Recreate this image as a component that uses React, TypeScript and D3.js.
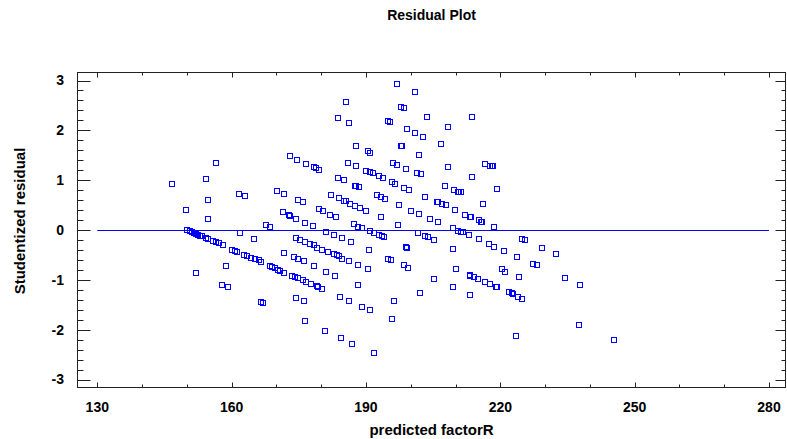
import React from "react";
import * as d3 from "d3";

// predicted factorR (x) and studentized residual (y)
const predicted = [
  146.7, 156.4, 154.3, 161.6, 154.8, 149.7, 154.8, 161.8, 150.0, 150.7, 151.1, 151.6, 152.0, 152.5, 152.9,
  153.4, 154.3, 154.7, 155.8, 156.5, 157.2, 158.1, 160.1, 160.8, 161.3, 158.7, 152.0, 157.9, 159.1,
  173.0, 174.5, 176.5, 178.3, 178.8, 179.4, 163.0, 170.2, 171.8, 174.9, 176.0, 171.4, 172.7, 173.1, 174.4,
  179.4, 180.4, 167.7, 168.6, 176.4, 178.1, 164.9, 174.3, 175.3, 176.4, 177.5, 178.3, 179.1, 180.2, 162.8,
  163.4, 164.3, 165.2, 166.0, 166.6, 171.8, 173.9, 174.9, 176.2, 168.5, 169.1, 169.7, 170.3, 170.7, 171.6,
  178.5, 181.0, 173.4, 174.1, 174.9, 175.9, 176.7, 177.7, 179.0, 179.3, 180.2, 166.6, 167.1, 174.4, 176.2,
  176.4, 180.8,
  185.5, 183.7, 186.2, 195.0, 195.3, 187.8, 190.5, 191.0, 186.0, 187.8, 196.0, 197.0, 190.1, 190.8, 191.6,
  192.9, 193.8, 183.7, 185.0, 187.5, 187.8, 188.4, 195.9, 196.4, 182.3, 184.0, 185.0, 185.5, 186.4, 187.6,
  188.7, 190.1, 192.4, 193.4, 194.3, 197.3, 182.0, 183.4, 193.4, 187.3, 188.2, 189.2, 197.2, 181.1, 182.9,
  184.6, 186.7, 190.8, 191.9, 192.9, 193.6, 194.0, 181.6, 182.9, 183.6, 184.0, 184.7, 186.2, 190.6, 195.0,
  195.5, 188.3, 190.4, 183.1, 188.3, 184.1, 186.2, 196.2, 189.2, 190.8, 195.7, 184.4, 186.9, 191.7,
  196.9, 200.9, 197.8, 198.4, 203.6, 213.7, 199.2, 200.9, 202.8, 208.3, 197.8, 198.0, 206.8, 201.8, 198.9,
  201.4, 202.2, 208.3, 213.7, 198.6, 199.5, 207.7, 209.7, 210.5, 210.8, 211.3, 203.2, 205.8, 206.1, 207.0,
  207.8, 200.1, 201.9, 209.9, 204.2, 206.0, 212.2, 213.3, 213.5, 209.5, 210.6, 211.2, 211.7, 213.0, 201.6,
  203.2, 203.9, 205.3, 198.9, 199.2, 209.5, 198.4, 199.3, 210.2, 205.1, 213.2, 213.3, 214.1, 209.5, 202.1,
  213.2,
  216.6, 217.7, 218.1, 218.4, 219.3, 216.2, 215.3, 215.7, 215.9, 218.5, 215.3, 217.5, 218.5, 220.8, 224.9,
  225.4, 229.4, 223.8, 227.3, 228.2, 220.4, 221.1, 224.1, 215.1, 216.6, 217.6, 219.0, 219.2, 221.9, 222.5,
  222.9, 224.0, 224.8, 223.6,
  232.4, 234.4, 237.9, 237.6, 245.4,
];

const residual = [
  0.93, 1.35, 1.02, 0.73, 0.6, 0.41, 0.23, -0.06, 0.0, -0.03, -0.05, -0.07, -0.08, -0.1, -0.12,
  -0.13, -0.16, -0.18, -0.22, -0.24, -0.27, -0.31, -0.4, -0.42, -0.44, -0.73, -0.86, -1.11, -1.15,
  1.48, 1.41, 1.33, 1.27, 1.25, 1.21, 0.69, 0.79, 0.73, 0.6, 0.56, 0.36, 0.3, 0.28, 0.23,
  0.43, 0.39, 0.11, 0.06, 0.15, 0.08, -0.19, -0.17, -0.2, -0.25, -0.29, -0.31, -0.36, -0.4, -0.51,
  -0.53, -0.56, -0.59, -0.61, -0.65, -0.47, -0.54, -0.58, -0.62, -0.73, -0.75, -0.77, -0.8, -0.82, -0.86,
  -0.73, -0.84, -0.92, -0.94, -0.97, -1.01, -1.05, -1.08, -1.12, -1.14, -1.19, -1.44, -1.46, -1.36, -1.42,
  -1.83, -2.02,
  2.57, 2.24, 2.14, 2.18, 2.17, 1.69, 1.58, 1.55, 1.35, 1.29, 1.35, 1.31, 1.19, 1.17, 1.14,
  1.08, 1.04, 1.04, 1.0, 0.89, 0.88, 0.87, 0.96, 0.93, 0.7, 0.64, 0.59, 0.58, 0.53, 0.49,
  0.45, 0.39, 0.71, 0.67, 0.62, 0.5, 0.31, 0.27, 0.27, 0.13, 0.07, 0.04, 0.1, -0.05, -0.1,
  -0.17, -0.25, -0.03, -0.06, -0.1, -0.13, -0.14, -0.44, -0.49, -0.51, -0.53, -0.58, -0.63, -0.4, -0.59,
  -0.61, -0.71, -0.79, -0.92, -1.11, -1.34, -1.42, -1.42, -1.55, -1.61, -1.79, -2.17, -2.28, -2.46,
  2.93, 2.77, 2.47, 2.45, 2.27, 2.27, 2.02, 1.95, 1.87, 2.06, 1.68, 1.68, 1.72, 1.51, 1.23,
  1.14, 1.12, 1.27, 1.06, 0.85, 0.8, 0.89, 0.8, 0.77, 0.76, 0.76, 0.66, 0.57, 0.56, 0.53,
  0.5, 0.39, 0.33, 0.41, 0.23, 0.17, 0.31, 0.27, 0.27, 0.04, -0.02, -0.04, -0.05, -0.1, -0.06,
  -0.13, -0.15, -0.21, -0.34, -0.36, -0.38, -0.71, -0.77, -0.79, -0.98, -0.9, -0.92, -0.94, -1.15, -1.26,
  -1.3,
  1.33, 1.29, 1.29, 1.29, 0.83, 0.53, 0.21, 0.17, 0.16, 0.06, -0.19, -0.29, -0.34, -0.42, -0.19,
  -0.21, -0.36, -0.54, -0.69, -0.71, -0.79, -0.84, -0.94, -0.98, -1.05, -1.08, -1.14, -1.14, -1.25, -1.27,
  -1.29, -1.35, -1.38, -2.13,
  -0.49, -0.96, -1.11, -1.9, -2.21,
];

const xTickLabels = [130, 160, 190, 220, 250, 280];
const yTickLabels = [-3, -2, -1, 0, 1, 2, 3];

const W = 787, H = 439;
const frame = { left: 77.5, right: 785.5, top: 72.5, bottom: 387.5 };

export default function App() {
  const x = d3.scaleLinear().domain([130, 280]).range([97.3, 769]);
  const y = d3.scaleLinear().domain([-3, 3]).range([379.5, 80.5]);

  const xMinor = d3.range(130, 281, 10);
  const yMinor = d3.range(-3, 3.001, 0.2).map(v => +v.toFixed(1));
  const axisColor = "#222";
  const font = "'Liberation Sans', Arial, sans-serif";
  const crisp = (v: number) => Math.round(v) + 0.5;

  return (
    <svg width={W} height={H} style={{ position: "absolute", left: 0, top: 0, background: "#fff" }}>
      <text x={(frame.left + frame.right) / 2} y={20} textAnchor="middle" fontFamily={font}
        fontWeight="bold" fontSize={14} fill="#000">Residual Plot</text>

      {/* frame */}
      <rect x={frame.left} y={frame.top} width={frame.right - frame.left} height={frame.bottom - frame.top}
        fill="none" stroke={axisColor} strokeWidth={1} />

      {/* x ticks bottom + top */}
      {xMinor.map(v => {
        const major = xTickLabels.includes(v);
        const len = major ? 5 : 3;
        const xv = crisp(x(v));
        return (
          <g key={"xt" + v}>
            <line x1={xv} x2={xv} y1={frame.bottom} y2={frame.bottom - len} stroke={axisColor} />
            <line x1={xv} x2={xv} y1={frame.top} y2={frame.top + len} stroke={axisColor} />
          </g>
        );
      })}
      {xTickLabels.map(v => (
        <text key={"xl" + v} x={x(v)} y={412} textAnchor="middle" fontFamily={font} fontWeight="bold"
          fontSize={14} fill="#000">{v}</text>
      ))}

      {/* y ticks left + right */}
      {yMinor.map(v => {
        const major = Math.abs(v - Math.round(v)) < 1e-6;
        const yv = crisp(y(v));
        return (
          <g key={"yt" + v}>
            <line x1={frame.left} x2={frame.left + (major ? 13 : 6)} y1={yv} y2={yv} stroke={axisColor} />
            <line x1={frame.right} x2={frame.right - (major ? 10 : 4)} y1={yv} y2={yv} stroke={axisColor} />
          </g>
        );
      })}
      {yTickLabels.map(v => (
        <text key={"yl" + v} x={64} y={y(v)} dy="0.35em" textAnchor="end" fontFamily={font} fontWeight="bold"
          fontSize={14} fill="#000">{v}</text>
      ))}

      <text x={(frame.left + frame.right) / 2} y={435} textAnchor="middle" fontFamily={font}
        fontWeight="bold" fontSize={15} fill="#000">predicted factorR</text>
      <text transform={`translate(25,221) rotate(-90)`} textAnchor="middle" fontFamily={font}
        fontWeight="bold" fontSize={15} fill="#000">Studentized residual</text>

      {/* zero reference line */}
      <line x1={x(130)} x2={x(280)} y1={crisp(y(0))} y2={crisp(y(0))} stroke="#0000ff" strokeWidth={1} />

      {/* points */}
      {predicted.map((p, i) => (
        <rect key={"p" + i} x={Math.round(x(p)) - 2.5} y={Math.round(y(residual[i])) - 2.5} width={5} height={5}
          fill="none" stroke="#0000ff" strokeWidth={1} />
      ))}
    </svg>
  );
}
